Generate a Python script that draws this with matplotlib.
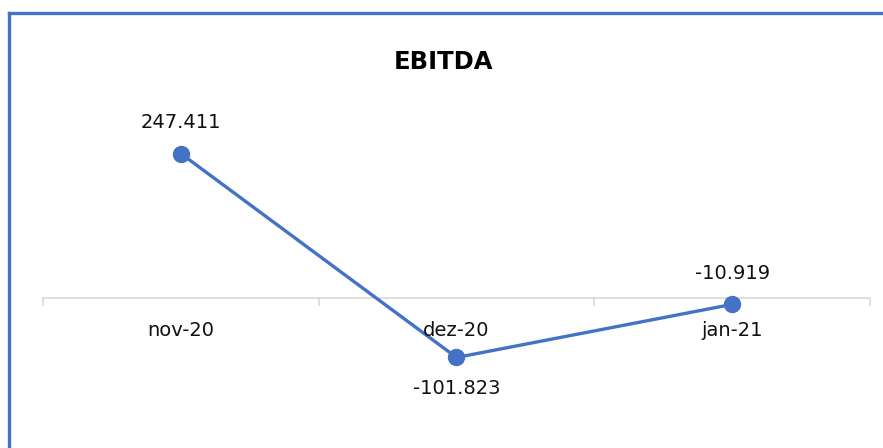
import matplotlib
matplotlib.use("Agg")
import matplotlib.pyplot as plt
from matplotlib.lines import Line2D

categories = ["nov-20", "dez-20", "jan-21"]
values = [247.411, -101.823, -10.919]
labels = ["247.411", "-101.823", "-10.919"]
label_pos = ["above", "below", "above"]

blue = "#4472C4"
W, H = 883, 448
fig = plt.figure(figsize=(W / 100, H / 100), dpi=100)
plt.rcParams['font.family'] = ['DejaVu Sans']

# axes placement (pixel based)
ax_left, ax_right = 43, 870
y0 = 298  # zero line pixel
scale = 0.584  # px per unit
ymin, ymax = -150, 300
top_px = y0 - ymax * scale
bot_px = y0 - ymin * scale
ax = fig.add_axes([ax_left / W, 1 - bot_px / H, (ax_right - ax_left) / W, (bot_px - top_px) / H])

x = list(range(len(categories)))
ax.plot(x, values, color=blue, lw=2.4, marker="o", markersize=11.5, zorder=3, clip_on=False)
ax.set_xlim(-0.5, len(categories) - 0.5)
ax.set_ylim(ymin, ymax)

for s in ["top", "right", "left", "bottom"]:
    ax.spines[s].set_visible(False)
ax.axhline(0, color="#D9D9D9", lw=1.2, zorder=1)
ax.set_yticks([])
ax.set_xticks([])
# category boundary ticks
for b in [i - 0.5 for i in range(len(categories) + 1)]:
    ax.plot([b, b], [0, -7 / scale], color="#D9D9D9", lw=1.2, clip_on=False, zorder=1)
# category labels
for xi, c in zip(x, categories):
    ax.annotate(c, (xi, 0), xytext=(0, -32 * 0.72), textcoords="offset points",
                ha="center", va="center", fontsize=14, color="#111111")

for xi, v, lab, pos in zip(x, values, labels, label_pos):
    off = 31 if pos == "above" else -31
    ax.annotate(lab, (xi, v), xytext=(0, off * 0.72), textcoords="offset points",
                ha="center", va="center", fontsize=14, color="#111111")

fig.text(443 / W, 1 - 62 / H, "EBITDA", ha="center", va="center", fontsize=17.5,
         fontweight="bold", color="black")

# border (left and top)
fig.add_artist(Line2D([9 / W, 9 / W], [0, 1 - 13.5 / H], color=blue, lw=2.4,
                      transform=fig.transFigure, solid_capstyle="projecting"))
fig.add_artist(Line2D([9 / W, 1], [1 - 13.5 / H, 1 - 13.5 / H], color=blue, lw=2.4,
                      transform=fig.transFigure, solid_capstyle="projecting"))

fig.savefig("out.png", dpi=100)
